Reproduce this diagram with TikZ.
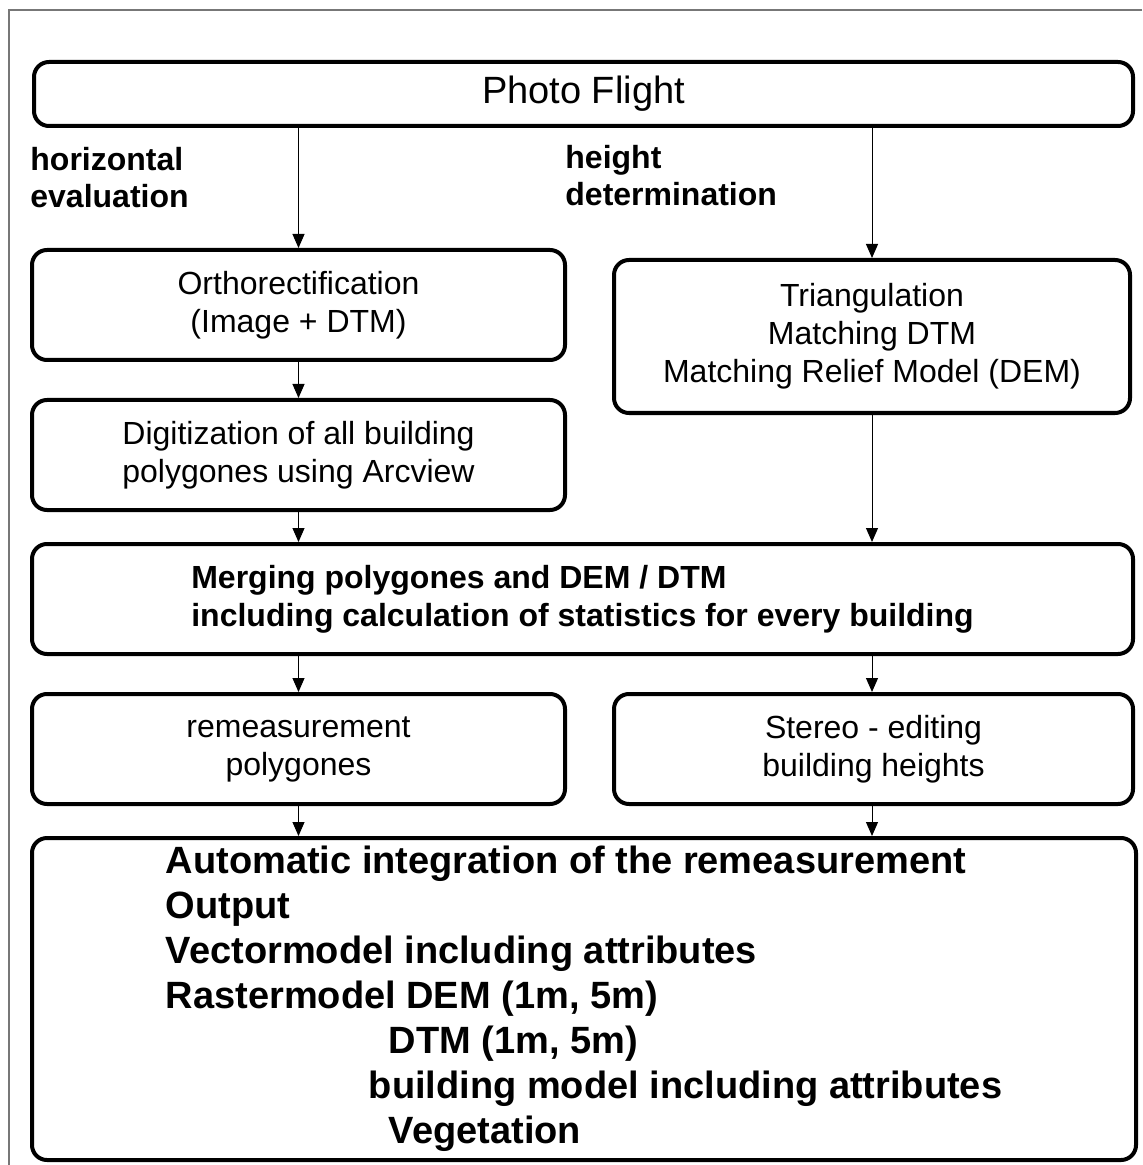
\documentclass[tikz,border=0pt]{standalone}
\usepackage{fontspec}
\setmainfont{Liberation Sans}
\usepackage{xcolor}
\usetikzlibrary{arrows.meta,positioning}
\definecolor{framegray}{HTML}{777777}
\tikzset{
  box/.style={draw,line width=2pt,rounded corners=7.5pt,align=center,
              font=\fontsize{16}{19}\selectfont,inner sep=0pt},
  boldbox/.style={box,align=left,font=\bfseries\fontsize{16}{19}\selectfont},
  lbl/.style={align=left,inner sep=0pt,font=\bfseries\fontsize{16}{18.5}\selectfont},
  arr/.style={-{Triangle[length=7pt,width=6pt]},line width=0.5pt},
  frame/.style={framegray,line width=0.7pt},
}
\begin{document}
\begin{tikzpicture}[x=0.5pt,y=-0.5pt]
  \useasboundingbox (0,0) rectangle (1142,1165);
  \draw[frame] (1142,10) -- (9,10) -- (9,1165);
  \node[box,font=\fontsize{19}{22}\selectfont,minimum width=549.5pt,minimum height=32pt] (flight) at (583.5,94) {Photo Flight};
  \node[lbl,anchor=north west] (horiz) at (30,147) {horizontal\\evaluation};
  \node[lbl,anchor=north west] (height) at (565,145) {height\\determination};
  % left path
  \node[box,minimum width=266.5pt,minimum height=55pt] (ortho) at (298.5,305) {Orthorectification\\(Image + DTM)};
  \node[box,minimum width=266.5pt,minimum height=55pt] (digit) at (298.5,455) {Digitization of all building\\polygones using Arcview};
  % right path
  \node[box,minimum width=258pt,minimum height=76.5pt] (triang) at (872,336.5) {Triangulation\\Matching DTM\\Matching Relief Model (DEM)};
  % merge
  \node[boldbox,minimum width=550.5pt,minimum height=55pt] (merge) at (582.5,599)
     {Merging polygones and DEM / DTM\\including calculation of statistics for every building};
  \node[box,minimum width=266.5pt,minimum height=55pt] (remeas) at (298.5,749) {remeasurement\\polygones};
  \node[box,minimum width=259.5pt,minimum height=55pt] (stereo) at (873.5,749) {Stereo - editing\\building heights};
  % output
  \node[boldbox,font=\bfseries\fontsize{19}{22.5}\selectfont,minimum width=552pt,minimum height=161pt] (final) at (584,999)
     {Automatic integration of the remeasurement\\Output\\Vectormodel including attributes\\Rastermodel DEM (1m, 5m)\\
      \hspace*{111.5pt}DTM (1m, 5m)\\\hspace*{101.5pt}building model including attributes\\\hspace*{111.5pt}Vegetation};
  \draw[arr] (flight.south -| ortho) -- (ortho.north);
  \draw[arr] (flight.south -| triang) -- (triang.north);
  \draw[arr] (ortho) -- (digit);
  \draw[arr] (digit.south) -- (merge.north -| digit);
  \draw[arr] (triang.south) -- (merge.north -| triang);
  \draw[arr] (merge.south -| remeas) -- (remeas.north);
  \draw[arr] (merge.south -| triang) -- (stereo.north -| triang);
  \draw[arr] (remeas.south) -- (final.north -| remeas);
  \draw[arr] (stereo.south -| triang) -- (final.north -| triang);
\end{tikzpicture}
\end{document}
